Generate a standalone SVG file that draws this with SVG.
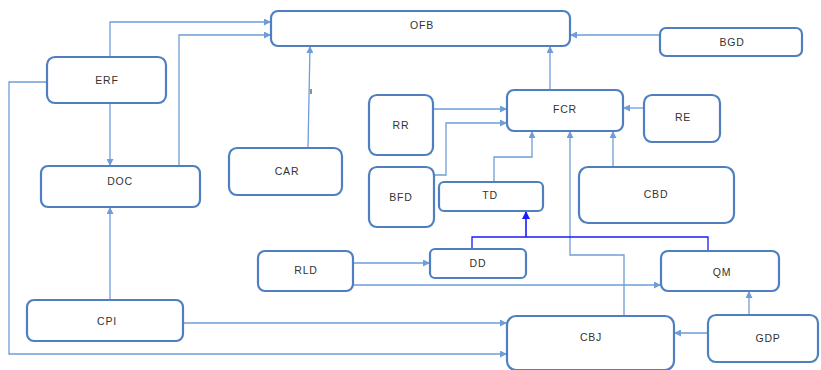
<svg xmlns="http://www.w3.org/2000/svg" width="821" height="370" viewBox="0 0 821 370">
<style>
.n rect{fill:#fff;stroke:#4f7fc0;stroke-width:2.2}
.n text{font-family:"Liberation Sans",Arial,sans-serif;font-size:10.5px;letter-spacing:0.8px;fill:#333;text-anchor:middle;dominant-baseline:central}
.c path{fill:none;stroke:#6f9dd8;stroke-width:1.3}
.c path.a{marker-end:url(#ah)}
.c path.b{stroke:#1a1aff;stroke-width:1.3}
.c path.ba{stroke:#1a1aff;stroke-width:1.6;marker-end:url(#bh)}
</style>
<defs>
<marker id="ah" viewBox="0 0 10 10" refX="10" refY="5" markerWidth="7" markerHeight="7" markerUnits="userSpaceOnUse" orient="auto"><path d="M0,0L10,5L0,10z" fill="#6f9dd8"/></marker>
<marker id="bh" viewBox="0 0 10 10" refX="10" refY="5" markerWidth="8" markerHeight="8" markerUnits="userSpaceOnUse" orient="auto"><path d="M0,0L10,5L0,10z" fill="#1a1aff"/></marker>
</defs>
<rect width="821" height="370" fill="#fff"/>
<g class="c">
<path class="a" d="M110,57V22H271"/>
<path class="a" d="M179,166V35H271"/>
<path class="a" d="M110,103V166"/>
<path class="a" d="M110,300V207"/>
<path class="a" d="M47,82H9V354H507"/>
<path class="a" d="M183,323H507"/>
<path class="a" d="M308,148L310,46"/>
<path class="a" d="M660,35H570"/>
<path class="a" d="M550,90V46"/>
<path class="a" d="M644,108H623"/>
<path class="a" d="M613,167V131"/>
<path class="a" d="M624,316V255H570V131"/>
<path class="a" d="M433,109H507"/>
<path class="a" d="M434,175H446V123H507"/>
<path class="a" d="M494,182V157H532V131"/>
<path class="a" d="M353,263H430"/>
<path class="a" d="M353,285H661"/>
<path class="a" d="M708,333H674"/>
<path class="a" d="M749,315V291"/>
<path class="b" d="M472,249V237H708V251"/>
<path class="ba" d="M526,237V211"/>
</g>
<line x1="311" y1="89" x2="311" y2="94" stroke="#222" stroke-width="1"/>
<g id="OFB" class="n"><rect x="271" y="11" width="299" height="35" rx="7"/><text x="422" y="25">OFB</text></g>
<g id="BGD" class="n"><rect x="660" y="28" width="142" height="28" rx="6"/><text x="732" y="42">BGD</text></g>
<g id="ERF" class="n"><rect x="47" y="57" width="119" height="46" rx="8"/><text x="107" y="80">ERF</text></g>
<g id="DOC" class="n"><rect x="41" y="166" width="159" height="41" rx="7"/><text x="120" y="181">DOC</text></g>
<g id="CAR" class="n"><rect x="229" y="148" width="113" height="47" rx="8"/><text x="287" y="171">CAR</text></g>
<g id="RR" class="n"><rect x="369" y="95" width="64" height="60" rx="8"/><text x="401" y="125">RR</text></g>
<g id="BFD" class="n"><rect x="369" y="167" width="65" height="60" rx="8"/><text x="401" y="197">BFD</text></g>
<g id="FCR" class="n"><rect x="507" y="90" width="116" height="41" rx="7"/><text x="565" y="109">FCR</text></g>
<g id="RE" class="n"><rect x="644" y="95" width="76" height="47" rx="8"/><text x="683" y="117">RE</text></g>
<g id="TD" class="n"><rect x="439" y="182" width="104" height="29" rx="5"/><text x="490" y="195">TD</text></g>
<g id="CBD" class="n"><rect x="579" y="167" width="155" height="56" rx="9"/><text x="656" y="194">CBD</text></g>
<g id="RLD" class="n"><rect x="258" y="251" width="95" height="40" rx="7"/><text x="306" y="270">RLD</text></g>
<g id="DD" class="n"><rect x="430" y="249" width="96" height="29" rx="5"/><text x="478" y="263">DD</text></g>
<g id="QM" class="n"><rect x="661" y="251" width="118" height="40" rx="7"/><text x="722" y="272">QM</text></g>
<g id="CPI" class="n"><rect x="27" y="300" width="156" height="41" rx="7"/><text x="107" y="321">CPI</text></g>
<g id="CBJ" class="n"><rect x="507" y="316" width="167" height="54" rx="9"/><text x="591" y="337">CBJ</text></g>
<g id="GDP" class="n"><rect x="708" y="315" width="110" height="47" rx="8"/><text x="768" y="338">GDP</text></g>
</svg>
